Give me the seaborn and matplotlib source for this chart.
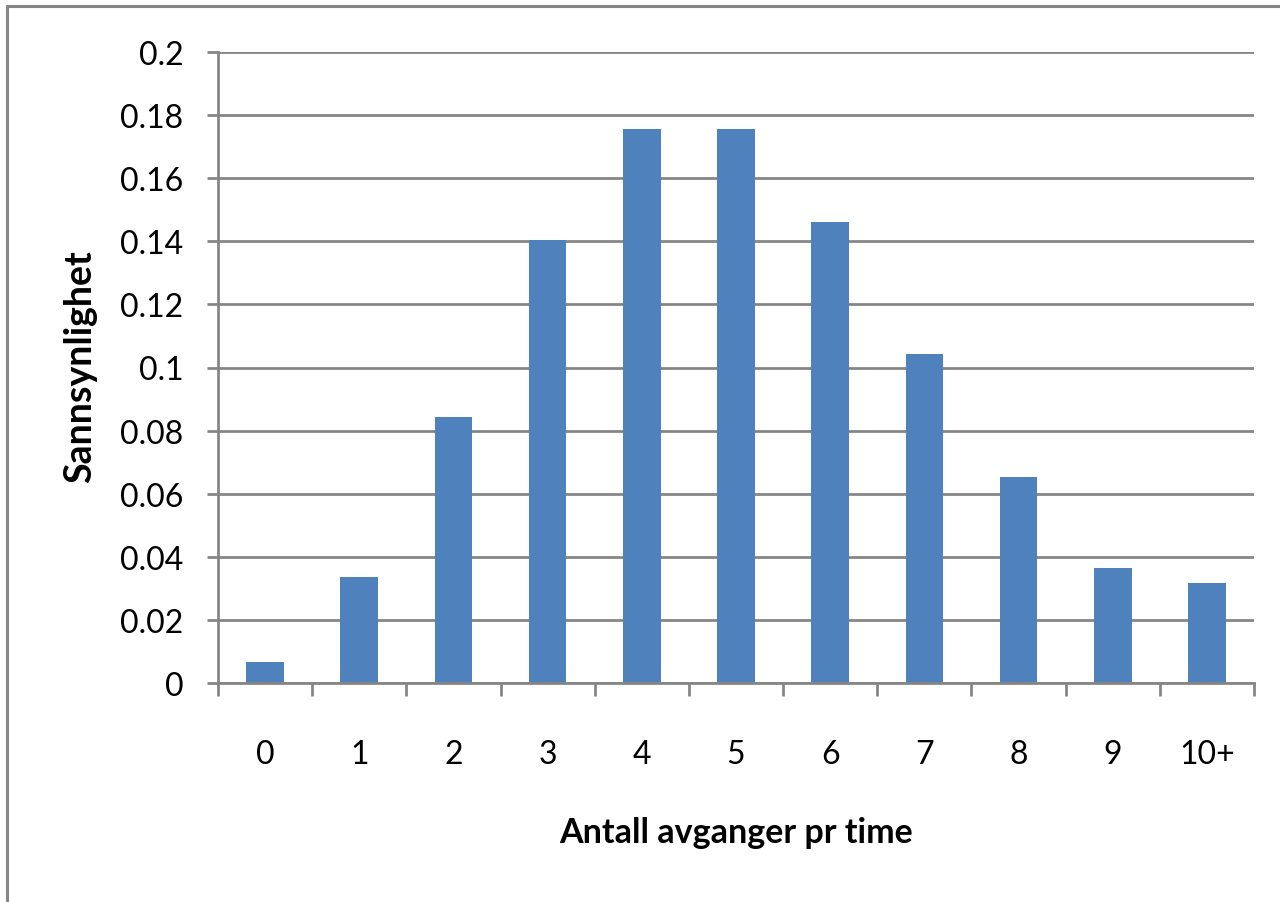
import matplotlib
matplotlib.use("Agg")
import matplotlib.pyplot as plt
from matplotlib.lines import Line2D
import seaborn as sns
import pandas as pd

# Number of departures per hour and their probabilities
categories = ["0", "1", "2", "3", "4", "5", "6", "7", "8", "9", "10+"]
probabilities = [0.0067, 0.0337, 0.0842, 0.1404, 0.1755, 0.1755,
                 0.1462, 0.1044, 0.0653, 0.0363, 0.0318]
y_ticks = [0, 0.02, 0.04, 0.06, 0.08, 0.1, 0.12, 0.14, 0.16, 0.18, 0.2]
y_tick_labels = ["0", "0.02", "0.04", "0.06", "0.08", "0.1",
                 "0.12", "0.14", "0.16", "0.18", "0.2"]

df = pd.DataFrame({"avganger": categories, "p": probabilities})

sns.set_theme(style="white")
fonts = ["Lato", "DejaVu Sans"]
plt.rcParams["font.family"] = fonts
plt.rcParams["text.color"] = "black"
plt.rcParams["axes.labelcolor"] = "black"
plt.rcParams["xtick.color"] = "black"
plt.rcParams["ytick.color"] = "black"

grey = "#868686"
fig = plt.figure(figsize=(12.8, 9.03), dpi=100)
ax = fig.add_axes([218 / 1280, 1 - 684 / 903, (1254 - 218) / 1280, (684 - 53) / 903])

sns.barplot(data=df, x="avganger", y="p", order=categories, color="#4F81BD",
            saturation=1, width=0.4, edgecolor="none", linewidth=0, ax=ax)

ax.set_ylim(0, 0.2)
ax.set_xlim(-0.5, len(categories) - 0.5)
ax.set_yticks(y_ticks)
ax.set_yticklabels(y_tick_labels)
ax.yaxis.grid(True, color=grey, linewidth=2)
ax.set_axisbelow(True)

# category boundary ticks on the x axis
ax.set_xticks([i - 0.5 for i in range(len(categories) + 1)], minor=True)
ax.set_xticks(range(len(categories)))
ax.set_xticklabels(categories)
ax.tick_params(axis="x", which="major", length=0, pad=40, labelsize=23,
               labelcolor="black")
ax.tick_params(axis="x", which="minor", length=9, width=2, color=grey, direction="out",
               bottom=True)
ax.tick_params(axis="y", which="major", length=8, width=2, color=grey, pad=17,
               labelsize=23, labelcolor="black", left=True, direction="out")

for side in ["top", "right"]:
    ax.spines[side].set_visible(False)
for side in ["left", "bottom"]:
    ax.spines[side].set_color(grey)
    ax.spines[side].set_linewidth(2)

ax.set_xlabel("Antall avganger pr time", fontsize=24.5, fontweight="bold",
              family=fonts, va="center", color="black")
ax.xaxis.set_label_coords(0.5, (684 - 833) / 631)
ax.set_ylabel("Sannsynlighet", fontsize=27, fontweight="bold",
              family=fonts, va="center", color="black")
ax.yaxis.set_label_coords((80 - 218) / 1036, (684 - 367) / 631)

# frame lines along the left and top edges of the figure
fig.add_artist(Line2D([7 / 1280, 7 / 1280], [0, 1 - 7 / 903], transform=fig.transFigure,
                      color=grey, linewidth=2.2))
fig.add_artist(Line2D([7 / 1280, 1], [1 - 7 / 903, 1 - 7 / 903], transform=fig.transFigure,
                      color=grey, linewidth=2.2))

fig.savefig("out.png", dpi=100)
